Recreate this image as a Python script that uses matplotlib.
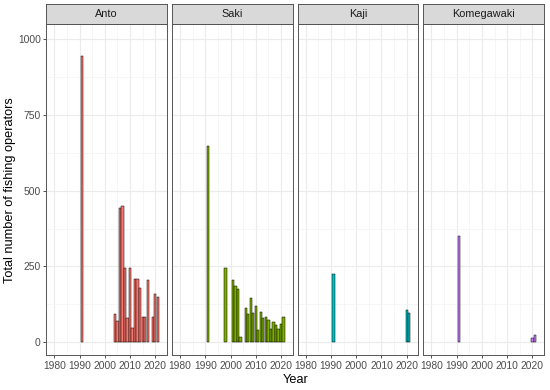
import matplotlib
matplotlib.use('Agg')
import matplotlib.pyplot as plt

plt.rcParams['font.family'] = ['Liberation Sans', 'DejaVu Sans']

# data
sites = ['Anto', 'Saki', 'Kaji', 'Komegawaki']
colors = ['#F8766D', '#7CAE00', '#00BFC4', '#C77CFF']

anto_years = [1991, 2004, 2005, 2006, 2007, 2008, 2009, 2010, 2011, 2012,
              2013, 2014, 2015, 2016, 2017, 2019, 2020, 2021]
anto_vals = [945, 94, 69, 444, 451, 244, 80, 246, 46, 208,
             208, 178, 85, 85, 205, 85, 158, 150]

saki_years = [1991, 1998, 2001, 2002, 2003, 2004, 2006, 2007, 2008, 2009,
              2010, 2011, 2012, 2013, 2014, 2015, 2016, 2017, 2018, 2019,
              2020, 2021]
saki_vals = [649, 245, 206, 186, 177, 17, 114, 94, 146, 98,
             120, 42, 100, 80, 83, 72, 45, 67, 56, 45,
             59, 82]

kaji_years = [1991, 2020, 2021]
kaji_vals = [225, 107, 95]

kome_years = [1991, 2020, 2021]
kome_vals = [352, 15, 23]

years = [anto_years, saki_years, kaji_years, kome_years]
vals = [anto_vals, saki_vals, kaji_vals, kome_vals]

W, H = 550, 390
fig = plt.figure(figsize=(W / 100, H / 100), dpi=100)

def box(x0, y0, x1, y1):
    # pixel box (top-left origin) -> figure fraction
    return [x0 / W, 1 - y1 / H, (x1 - x0) / W, (y1 - y0) / H]

pw, step = 120.6, 125.7
left0, top, bottom, strip_top = 46.3, 24, 355, 4

for i, site in enumerate(sites):
    x0 = left0 + i * step
    ax = fig.add_axes(box(x0, top, x0 + pw, bottom))
    ax.bar(years[i], vals[i], width=0.9, color=colors[i],
           edgecolor='black', linewidth=0.35, zorder=3)
    ax.set_xlim(1976.8, 2024.6)
    ax.set_ylim(-42, 1050)
    ax.set_xticks([1980, 1990, 2000, 2010, 2020])
    ax.set_xticks([1985, 1995, 2005, 2015], minor=True)
    ax.set_yticks([0, 250, 500, 750, 1000])
    ax.set_yticks([125, 375, 625, 875], minor=True)
    ax.grid(True, which='major', color='#EBEBEB', linewidth=0.8, zorder=0)
    ax.grid(True, which='minor', color='#F2F2F2', linewidth=0.45, zorder=0)
    ax.set_axisbelow(True)
    for s in ax.spines.values():
        s.set_color('#555555')
        s.set_linewidth(0.7)
    ax.tick_params(which='major', length=2.5, width=0.6, color='#333333',
                   labelsize=7.4, labelcolor='#4D4D4D', pad=1.5)
    ax.tick_params(which='minor', length=0)
    if i > 0:
        ax.tick_params(axis='y', which='both', left=False, labelleft=False)

    sax = fig.add_axes(box(x0, strip_top, x0 + pw, top))
    sax.set_facecolor('#D9D9D9')
    sax.set_xticks([])
    sax.set_yticks([])
    for s in sax.spines.values():
        s.set_color('#555555')
        s.set_linewidth(0.7)
    sax.text(0.5, 0.5, site, ha='center', va='center', fontsize=7.8,
             color='#1A1A1A', transform=sax.transAxes)

fig.text((left0 + 3 * step + pw + left0) / 2 / W, 1 - 380 / H, 'Year',
         ha='center', va='center', fontsize=9.2)
fig.text(10 / W, 1 - 190 / H, 'Total number of fishing operators',
         ha='center', va='center', rotation=90, fontsize=9.2)

fig.savefig('out.png', dpi=100)
